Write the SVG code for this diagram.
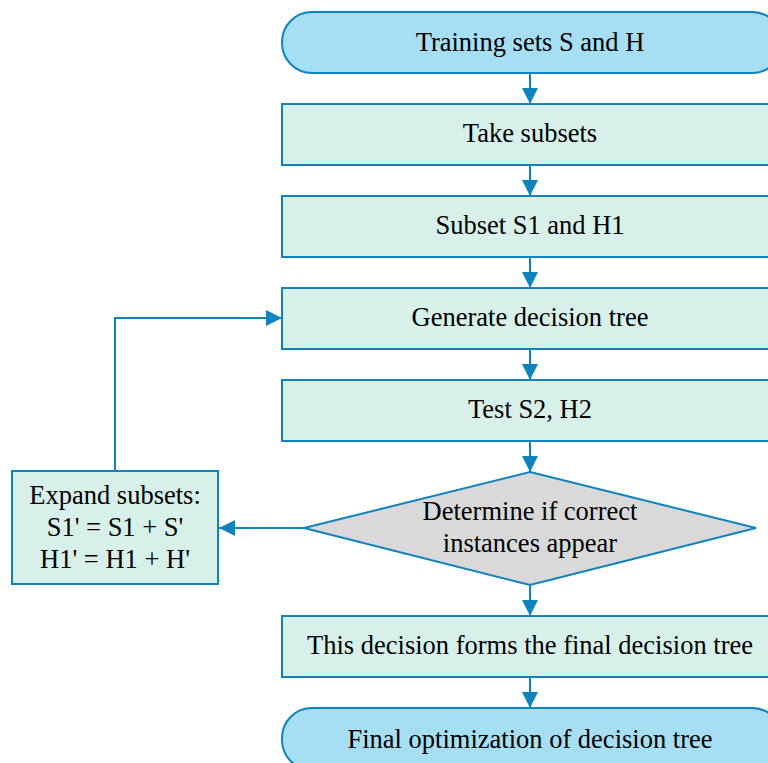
<svg xmlns="http://www.w3.org/2000/svg" width="768" height="763" viewBox="0 0 768 763">
<defs>
<style>
.term{fill:#a6def4;stroke:#0f83bd;stroke-width:2}
.box{fill:#d8f0ea;stroke:#0f83bd;stroke-width:2}
.dia{fill:#d9d9d9;stroke:#0f83bd;stroke-width:2}
.lbl{font-family:"Liberation Serif","Times New Roman",serif;font-size:26.5px;fill:#000;text-anchor:middle}
.con{fill:none;stroke:#0f83bd;stroke-width:2}
</style>
<marker id="ah" viewBox="0 0 10 10" refX="10" refY="5" markerWidth="16" markerHeight="16" markerUnits="userSpaceOnUse" orient="auto">
<path d="M0,0 L10,5 L0,10 z" fill="#0f83bd"/>
</marker>
</defs>
<rect width="768" height="763" fill="#fff"/>
<g id="connectors">
<line class="con" x1="530" y1="73" x2="530" y2="104" marker-end="url(#ah)"/>
<line class="con" x1="530" y1="165" x2="530" y2="196" marker-end="url(#ah)"/>
<line class="con" x1="530" y1="257" x2="530" y2="288" marker-end="url(#ah)"/>
<line class="con" x1="530" y1="349" x2="530" y2="380" marker-end="url(#ah)"/>
<line class="con" x1="530" y1="441" x2="530" y2="472" marker-end="url(#ah)"/>
<line class="con" x1="530" y1="585" x2="530" y2="616" marker-end="url(#ah)"/>
<line class="con" x1="530" y1="677" x2="530" y2="708" marker-end="url(#ah)"/>
<line class="con" x1="304" y1="528" x2="219" y2="528" marker-end="url(#ah)"/>
<polyline class="con" points="115,471 115,318 282,318" marker-end="url(#ah)"/>
</g>
<g id="n1"><rect class="term" x="282" y="12" width="500" height="61" rx="30" ry="30"/><text class="lbl" x="530" y="51">Training sets S and H</text></g>
<g id="n2"><rect class="box" x="282" y="104" width="500" height="61"/><text class="lbl" x="530" y="142">Take subsets</text></g>
<g id="n3"><rect class="box" x="282" y="196" width="500" height="61"/><text class="lbl" x="530" y="234">Subset S1 and H1</text></g>
<g id="n4"><rect class="box" x="282" y="288" width="500" height="61"/><text class="lbl" x="530" y="326">Generate decision tree</text></g>
<g id="n5"><rect class="box" x="282" y="380" width="500" height="61"/><text class="lbl" x="530" y="418">Test S2, H2</text></g>
<g id="n6"><polygon class="dia" points="530,472 756,528 530,585 304,528"/><text class="lbl" x="530" y="520">Determine if correct</text><text class="lbl" x="530" y="552">instances appear</text></g>
<g id="n7"><rect class="box" x="12" y="471" width="206" height="113"/><text class="lbl" x="115" y="504">Expand subsets:</text><text class="lbl" x="115" y="536">S1' = S1 + S'</text><text class="lbl" x="115" y="568">H1' = H1 + H'</text></g>
<g id="n8"><rect class="box" x="282" y="616" width="500" height="61"/><text class="lbl" x="530" y="654">This decision forms the final decision tree</text></g>
<g id="n9"><rect class="term" x="282" y="708" width="500" height="62" rx="30" ry="30"/><text class="lbl" x="530" y="748">Final optimization of decision tree</text></g>
</svg>
